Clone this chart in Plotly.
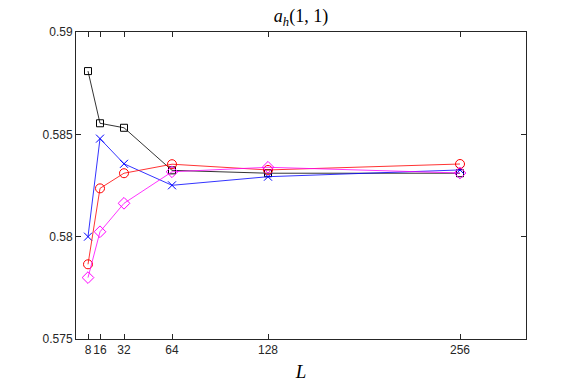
import plotly.graph_objects as go

L = [8, 16, 32, 64, 128, 256]

# four series
black_sq = [0.58809, 0.58554, 0.58532, 0.58324, 0.58310, 0.58310]
blue_x = [0.58000, 0.58479, 0.58356, 0.58251, 0.58293, 0.58326]
red_o = [0.57865, 0.58236, 0.58310, 0.58354, 0.58326, 0.58355]
mag_d = [0.57800, 0.58024, 0.58163, 0.58317, 0.58339, 0.58311]

y_ticks = [0.575, 0.58, 0.585, 0.59]
y_labels = ["0.575", "0.58", "0.585", "0.59"]

series = [
    (black_sq, "black", "square-open", 7),
    (blue_x, "blue", "x-thin-open", 8),
    (red_o, "red", "circle-open", 9),
    (mag_d, "magenta", "diamond-open", 9),
]

fig = go.Figure()
for vals, col, sym, sz in series:
    fig.add_trace(go.Scatter(
        x=L, y=vals, mode="lines+markers",
        line=dict(color=col, width=0.8),
        marker=dict(symbol=sym, size=sz, color=col, line=dict(color=col, width=1)),
        showlegend=False,
    ))

# page body adds ~8px margin, so figure is a bit smaller than the window
W, H = 573, 380
axis_col = "#262626"
fig.update_layout(
    width=W, height=H,
    margin=dict(l=68, r=55, t=24, b=49),
    paper_bgcolor="white", plot_bgcolor="white",
    font=dict(family="Liberation Sans, Arial, sans-serif", size=12, color=axis_col),
    title=dict(
        text="<i>a</i><sub><i>h</i></sub>(1, 1)",
        font=dict(family="Liberation Serif, Times New Roman, serif", size=18, color="black"),
        x=(68 + W - 55) / 2 / W, xanchor="center", xref="container",
        y=1 - 8 / H, yanchor="middle", yref="container",
    ),
)
fig.update_xaxes(
    range=[0, 300], tickvals=L, ticktext=[str(v) for v in L], tickangle=0,
    ticks="inside", ticklen=5, tickcolor=axis_col, tickwidth=0.8,
    showline=True, linecolor=axis_col, linewidth=1, mirror="ticks",
    showgrid=False, zeroline=False, automargin=False,
    title=dict(text="<i>L</i>", standoff=8,
               font=dict(family="Liberation Serif, Times New Roman, serif", size=19, color="black")),
)
fig.update_yaxes(
    range=[0.575, 0.59], tickvals=y_ticks, ticktext=y_labels,
    ticks="inside", ticklen=5, tickcolor=axis_col, tickwidth=0.8,
    showline=True, linecolor=axis_col, linewidth=1, mirror="ticks",
    showgrid=False, zeroline=False, automargin=False,
)

fig.write_html("out.html")
